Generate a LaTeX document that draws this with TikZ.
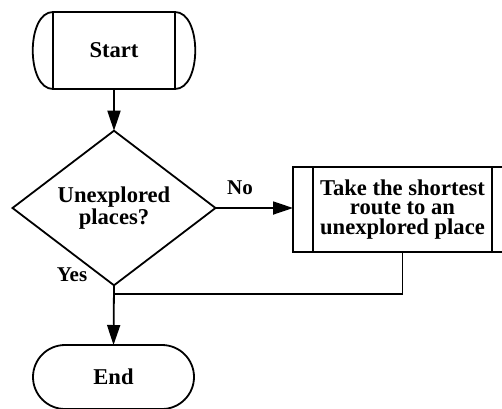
\documentclass[tikz,border=0pt]{standalone}
\usepackage{fontspec}
\setmainfont{Liberation Serif}
\usetikzlibrary{shapes.geometric,shapes.misc,arrows.meta}
\begin{document}
\begin{tikzpicture}[x=1pt,y=-1pt,
  every node/.style={font=\fontsize{22.6}{19.8}\selectfont\bfseries, inner sep=0pt, outer sep=0pt},
  shapeline/.style={draw, line width=1.8pt},
  conn/.style={line width=1.8pt},
  arr/.style={conn, -{Triangle[length=20pt,width=13pt]}},
  lbl/.style={font=\fontsize{21}{20}\selectfont\bfseries}
]
\useasboundingbox (0,0) rectangle (502,408);
\clip (0,0) rectangle (502,408);
% Start
\node[shapeline, rectangle, minimum width=122pt, minimum height=77pt] (start) at (114,50.5) {Start};
\draw[line width=1.8pt] (start.north west) .. controls +(-27,0) and +(-27,0) .. (start.south west);
\draw[line width=1.8pt] (start.north east) .. controls +(27,0) and +(27,0) .. (start.south east);
% Decision
\node[shapeline, diamond, minimum width=203pt, minimum height=109pt, align=center] (dec) at (114,208) {Unexplored\\places?};
% Process
\node[shapeline, rectangle, minimum width=219pt, minimum height=85pt, align=center] (proc) at (402.5,209.5) {Take the shortest\\route to an\\unexplored place};
\draw[line width=1.8pt] ([xshift=20pt]proc.north west) -- ([xshift=20pt]proc.south west);
\draw[line width=1.8pt] ([xshift=-20pt]proc.north east) -- ([xshift=-20pt]proc.south east);
% End
\node[shapeline, rounded rectangle, minimum width=161pt, minimum height=64pt] (end) at (113.5,377) {End};
% connectors
\coordinate (j) at (114,294);
\draw[arr] (start.south) -- (dec.north);
\draw[arr] (dec.east) -- (dec.east -| proc.west);
\draw[conn, line width=1.4pt] (proc.south -| 402.5,0) |- (j);
\draw[arr] (dec.south) -- (end.north);
% labels
\node[lbl] (no) at (240,188) {No};
\node[lbl] (yes) at (72,275) {Yes};
\end{tikzpicture}
\end{document}
